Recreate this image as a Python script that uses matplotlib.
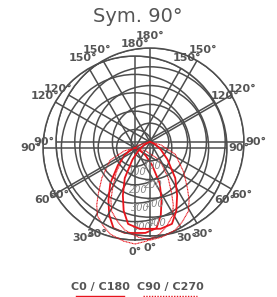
import numpy as np
import matplotlib
matplotlib.use("Agg")
import matplotlib.pyplot as plt

plt.rcParams['font.family'] = ['Liberation Sans Narrow', 'DejaVu Sans']

# angle grid and labels (0 at nadir, symmetric both sides)
grid_angles = [0, 30, 60, 90, 120, 150, 180, 210, 240, 270, 300, 330]
grid_labels = ['0°', '30°', '60°', '90°', '120°', '150°', '180°',
               '150°', '120°', '90°', '60°', '30°']
ring_values = [100, 200, 300, 400, 500]
ring_labels = ['100', '200', '300', '400']

# C0/C180 half curve (degrees from nadir, cd/klm)
c0_angle = [0, 7, 15, 21, 27, 35, 45, 55, 65, 75, 90]
c0_value = [462, 465, 451, 391, 318, 234, 131, 70, 30, 10, 0]

# C90/C270 half curve
c90_angle = [0, 7, 16, 22, 29, 34, 39, 48, 64, 75, 90]
c90_value = [522, 510, 487, 458, 421, 372, 316, 242, 150, 60, 0]

grey = '#4d4d4d'
red = '#e8141c'

fig = plt.figure(figsize=(2.77, 2.97), dpi=100)
W, H = 277, 297


def mirror(a, v):
    a = np.array(a, dtype=float)
    v = np.array(v, dtype=float)
    th = np.concatenate([-a[::-1], a[1:]])
    r = np.concatenate([v[::-1], v[1:]])
    return np.radians(th), r


def polar_chart(cx, cy, rad):
    ax = fig.add_axes([(cx - rad) / W, (H - cy - rad) / H, 2 * rad / W, 2 * rad / H],
                      projection='polar')
    ax.set_facecolor('none')
    ax.set_theta_zero_location('S')
    ax.set_ylim(0, 500)
    ax.set_thetagrids(grid_angles, grid_labels)
    ax.set_rgrids(ring_values, labels=[])
    ax.grid(color=grey, linewidth=1.1)
    ax.spines['polar'].set_color(grey)
    ax.spines['polar'].set_linewidth(1.1)
    ax.tick_params(axis='x', pad=-2, labelsize=8, colors='#555555')
    for t in ax.get_xticklabels():
        t.set_fontweight('bold')
    for v, s in zip(ring_values, ring_labels):
        ax.text(np.radians(5), v + 30, s, fontsize=7, color='#888888',
                style='italic', ha='center', va='center')
    th, r = mirror(c0_angle, c0_value)
    ax.plot(th, r, color=red, linewidth=1.3, clip_on=False, zorder=5)
    th, r = mirror(c90_angle, c90_value)
    ax.plot(th, r, color=red, linewidth=0.8, linestyle=(0, (1, 0.4)),
            clip_on=False, zorder=5)
    return ax


polar_chart(135, 148, 92)
polar_chart(150, 142, 94)

fig.text(138 / W, 1 - 16 / H, 'Sym. 90°', ha='center', va='center',
         fontsize=14, color='#555555')

fig.text(100 / W, 1 - 287 / H, 'C0 / C180', ha='center', va='center',
         fontsize=8, color='#555555', fontweight='bold')
fig.text(170 / W, 1 - 287 / H, 'C90 / C270', ha='center', va='center',
         fontsize=8, color='#555555', fontweight='bold')
fig.add_artist(plt.Line2D([76 / W, 124 / W], [1 - 295.5 / H, 1 - 295.5 / H],
                          color=red, linewidth=1.0))
fig.add_artist(plt.Line2D([143 / W, 197 / W], [1 - 295.5 / H, 1 - 295.5 / H],
                          color=red, linewidth=1.0, linestyle=(0, (1, 1))))

fig.savefig('out.png', dpi=100)
